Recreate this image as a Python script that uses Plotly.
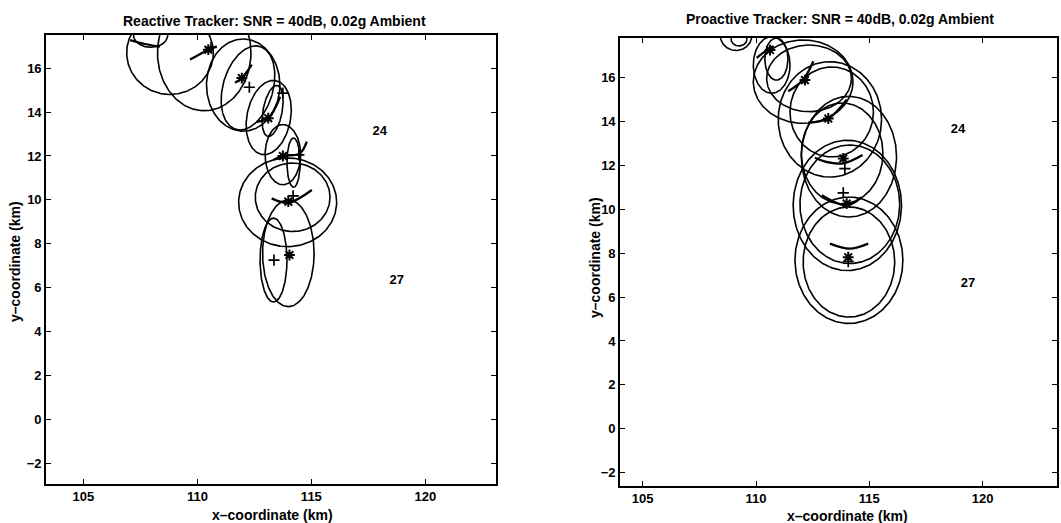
import numpy as np
import plotly.graph_objects as go

W, H = 1061, 523

# ---------------- Reactive tracker (left panel) ----------------
# covariance ellipses: centre, semi-axes (km) and tilt (deg)
react_ell_cx = [107.95, 108.8, 110.3, 112.01, 112.22, 113.13, 113.3, 113.75, 114.22, 113.96, 114.18, 113.34, 113.99]
react_ell_cy = [17.5, 16.7, 16.7, 15.23, 15.1, 13.75, 14.05, 12.06, 11.7, 9.89, 10.12, 7.26, 7.57]
react_ell_rx = [0.75, 1.9, 2.05, 1.61, 1.1, 0.96, 0.42, 0.78, 0.29, 2.15, 1.64, 0.59, 1.13]
react_ell_ry = [0.55, 1.9, 2.64, 2.1, 1.96, 1.71, 1.18, 1.37, 1.12, 2.02, 1.56, 1.91, 2.43]
react_ell_tilt = [0, 0, 0, 0, -15, -10, -10, 0, 0, 0, 0, 0, 0]

# estimated positions (*) and true positions (+)
react_est_x = [110.48, 111.95, 113.11, 113.75, 113.99, 114.04]
react_est_y = [16.84, 15.55, 13.72, 12.0, 9.92, 7.49]
react_true_x = [110.6, 112.28, 113.75, 114.45, 114.2, 113.36]
react_true_y = [16.95, 15.13, 14.86, 12.05, 10.18, 7.26]

# short track segments
react_arc_x = [[107.05, 107.7, 108.36], [109.68, 110.3, 110.85], [111.65, 111.95, 112.39],
               [112.6, 113.11, 113.63], [113.33, 113.75, 114.5, 114.8], [113.26, 113.99, 115.02]]
react_arc_y = [[17.28, 17.1, 16.98], [16.39, 16.74, 17.0], [15.33, 15.55, 16.16],
               [13.56, 13.72, 14.7], [11.82, 12.0, 12.12, 12.65], [10.07, 9.87, 10.45]]

react_lbl_x = [118.0, 118.75]
react_lbl_y = [13.11, 6.31]

# ---------------- Proactive tracker (right panel) ----------------
pro_ell_cx = [109.12, 109.25, 110.69, 110.9, 112.08, 112.34, 113.26, 113.34, 114.1, 113.8, 114.03, 114.14, 114.1, 114.1]
pro_ell_cy = [17.94, 17.75, 16.58, 16.85, 15.82, 15.97, 14.1, 14.44, 12.4, 12.55, 10.18, 10.23, 7.68, 7.6]
pro_ell_rx = [0.7, 0.35, 0.81, 0.51, 2.2, 1.87, 2.28, 1.84, 2.1, 1.8, 2.39, 2.2, 2.38, 2.02]
pro_ell_ry = [0.7, 0.3, 1.29, 0.96, 1.9, 1.52, 2.63, 2.05, 2.75, 2.3, 2.97, 2.7, 2.88, 2.51]
pro_ell_tilt = [0] * 14

pro_est_x = [110.62, 112.16, 113.19, 113.85, 114.0, 114.07]
pro_est_y = [17.26, 15.89, 14.14, 12.32, 10.26, 7.82]
pro_true_x = [113.92, 113.85, 114.07]
pro_true_y = [11.86, 10.75, 7.62]

pro_arc_x = [[110.03, 110.4, 110.76], [111.42, 112.08, 112.53], [112.3, 113.19, 114.0],
             [112.6, 113.05, 113.85, 114.7], [112.9, 114.0, 114.66], [113.26, 114.14, 114.95]]
pro_arc_y = [[16.9, 17.2, 17.43], [15.38, 15.91, 16.75], [13.95, 14.14, 15.0],
             [12.35, 12.18, 12.1, 12.48], [10.64, 10.18, 10.56], [8.44, 8.21, 8.44]]

pro_lbl_x = [118.91, 119.35]
pro_lbl_y = [13.61, 6.62]

sensor_labels = ["24", "27"]

x_ticks = [105, 110, 115, 120]
y_ticks = [-2, 0, 2, 4, 6, 8, 10, 12, 14, 16]

FONT = "Liberation Sans, Arial, sans-serif"
INK = "black"


def ellipse(cx, cy, rx, ry, tilt):
    t = np.linspace(0, 2 * np.pi, 241)
    a = np.deg2rad(tilt)
    ex, ey = rx * np.cos(t), ry * np.sin(t)
    return cx + ex * np.cos(a) - ey * np.sin(a), cy + ex * np.sin(a) + ey * np.cos(a)


fig = go.Figure()


def add_panel(xa, ya, ecx, ecy, erx, ery, etilt, esx, esy, tx, ty, ax_, ay_, lx, ly):
    for cx, cy, rx, ry, tl in zip(ecx, ecy, erx, ery, etilt):
        x, y = ellipse(cx, cy, rx, ry, tl)
        fig.add_trace(go.Scatter(x=x, y=y, mode="lines", line=dict(color=INK, width=1.6),
                                 xaxis=xa, yaxis=ya, showlegend=False, hoverinfo="skip"))
    for x, y in zip(ax_, ay_):
        fig.add_trace(go.Scatter(x=x, y=y, mode="lines", line=dict(color=INK, width=2.3, shape="spline"),
                                 xaxis=xa, yaxis=ya, showlegend=False, hoverinfo="skip"))
    fig.add_trace(go.Scatter(x=esx, y=esy, mode="markers",
                             marker=dict(symbol="asterisk-open", size=9, color=INK, line=dict(color=INK, width=2)),
                             xaxis=xa, yaxis=ya, showlegend=False))
    fig.add_trace(go.Scatter(x=tx, y=ty, mode="markers",
                             marker=dict(symbol="cross-thin-open", size=8, color=INK, line=dict(color=INK, width=1.7)),
                             xaxis=xa, yaxis=ya, showlegend=False))
    fig.add_trace(go.Scatter(x=lx, y=ly, mode="text", text=sensor_labels,
                             textfont=dict(family=FONT, size=13, color=INK, weight="bold"),
                             xaxis=xa, yaxis=ya, showlegend=False))


add_panel("x", "y", react_ell_cx, react_ell_cy, react_ell_rx, react_ell_ry, react_ell_tilt,
          react_est_x, react_est_y, react_true_x, react_true_y, react_arc_x, react_arc_y,
          react_lbl_x, react_lbl_y)
add_panel("x2", "y2", pro_ell_cx, pro_ell_cy, pro_ell_rx, pro_ell_ry, pro_ell_tilt,
          pro_est_x, pro_est_y, pro_true_x, pro_true_y, pro_arc_x, pro_arc_y,
          pro_lbl_x, pro_lbl_y)

axis_common = dict(showgrid=False, zeroline=False, showline=True, linecolor=INK, linewidth=1.6,
                   mirror="allticks", ticks="inside", ticklen=5, tickwidth=1.2, tickcolor=INK,
                   tickfont=dict(family=FONT, size=13, color=INK, weight="bold"))


def px_x(p):
    return p / W


def px_y(p):
    return 1 - p / H


def label(text, x, y, size, angle=0):
    return dict(text=text, x=px_x(x), y=px_y(y), textangle=angle,
                xref="paper", yref="paper", showarrow=False, xanchor="center", yanchor="middle",
                font=dict(family=FONT, size=size, color=INK, weight="bold"))


fig.update_layout(
    width=W, height=H,
    margin=dict(l=0, r=0, t=0, b=0),
    paper_bgcolor="white", plot_bgcolor="white",
    xaxis=dict(domain=[px_x(46), px_x(496)], range=[103.36, 123.1], tickvals=x_ticks, anchor="y", **axis_common),
    yaxis=dict(domain=[px_y(484), px_y(35)], range=[-2.94, 17.51], tickvals=y_ticks, anchor="x", **axis_common),
    xaxis2=dict(domain=[px_x(620), px_x(1057)], range=[104.0, 123.28], tickvals=x_ticks, anchor="y2", **axis_common),
    yaxis2=dict(domain=[px_y(486), px_y(38)], range=[-2.61, 17.81], tickvals=y_ticks, anchor="x2", **axis_common),
    annotations=[
        label("Reactive Tracker: SNR = 40dB, 0.02g Ambient", 274, 21, 14),
        label("Proactive Tracker: SNR = 40dB, 0.02g Ambient", 840, 19, 14),
        label("x\u2013coordinate (km)", 272, 515, 14),
        label("x\u2013coordinate (km)", 847, 516, 14),
        label("y\u2013coordinate (km)", 15, 262, 14, -90),
        label("y\u2013coordinate (km)", 595, 258, 14, -90),
    ],
)

fig.write_html("out.html")
